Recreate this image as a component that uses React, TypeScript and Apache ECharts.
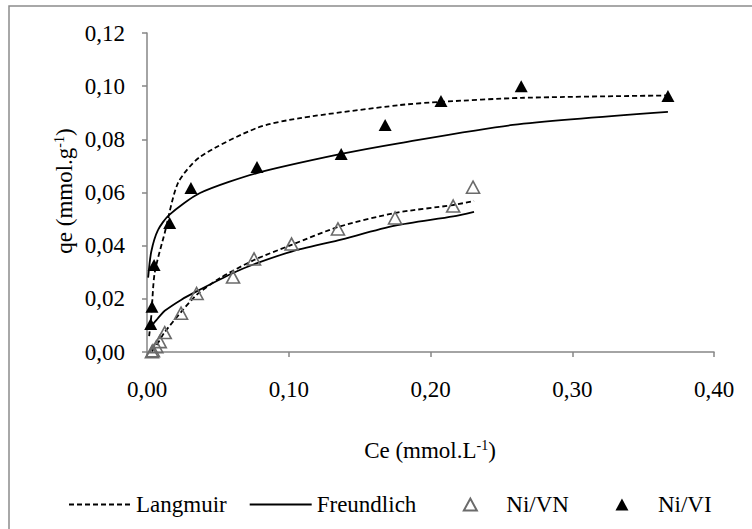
import React, { useEffect, useRef } from "react";
import * as echarts from "echarts";

// Experimental points
const niVNCe = [0.0035, 0.0042, 0.0066, 0.009, 0.0125, 0.024, 0.035, 0.0607, 0.0755, 0.102, 0.1347, 0.175, 0.216, 0.230];
const niVNQe = [0.0001, 0.0005, 0.002, 0.0039, 0.0073, 0.0146, 0.022, 0.0282, 0.035, 0.0406, 0.0463, 0.0504, 0.0549, 0.062];
const niVICe = [0.0026, 0.0035, 0.005, 0.016, 0.031, 0.0776, 0.137, 0.168, 0.2074, 0.264, 0.3675];
const niVIQe = [0.0105, 0.017, 0.0327, 0.0485, 0.0617, 0.0696, 0.0745, 0.0854, 0.0944, 0.100, 0.0963];

// Model curves
const langVICe = [0.0015, 0.003, 0.0054, 0.0125, 0.0219, 0.0374, 0.0776, 0.108, 0.1785, 0.2074, 0.264, 0.3675];
const langVIQe = [0.006, 0.0133, 0.0297, 0.0448, 0.0636, 0.0734, 0.0843, 0.088, 0.0929, 0.0941, 0.0956, 0.0965];
const freuVICe = [0.0008, 0.003, 0.0078, 0.0155, 0.0374, 0.0776, 0.137, 0.1785, 0.258, 0.3675];
const freuVIQe = [0.028, 0.0377, 0.0459, 0.0515, 0.0598, 0.0673, 0.0745, 0.0786, 0.0854, 0.0903];
const langVNCe = [0.0035, 0.0066, 0.009, 0.0125, 0.024, 0.035, 0.0515, 0.0755, 0.102, 0.1347, 0.175, 0.216, 0.2307];
const langVNQe = [0.0003, 0.0025, 0.0045, 0.0075, 0.015, 0.0215, 0.0278, 0.0346, 0.0403, 0.047, 0.0523, 0.0553, 0.0568];
const freuVNCe = [0.0042, 0.0066, 0.009, 0.0125, 0.024, 0.035, 0.0607, 0.0755, 0.102, 0.1347, 0.175, 0.216, 0.2307];
const freuVNQe = [0.0105, 0.012, 0.0135, 0.0155, 0.0196, 0.0228, 0.0297, 0.033, 0.0378, 0.042, 0.0475, 0.051, 0.0527];

const legendNames = ["Langmuir", "Freundlich", "Ni/VN", "Ni/VI"];
const xTitle = "Ce (mmol.L";
const yTitle = "qe (mmol.g";
const supText = "-1";

const FONT = "Liberation Serif";
const AXIS = "#868686";
// triangle centred inside a 62-wide invisible box
const TRI_ICON = "path://M0,12 M24.5,12 L31,0 L37.5,12 Z M62,12";

const pairs = (xs: number[], ys: number[]) => xs.map((x, i) => [x, ys[i]]);
const fmt = (v: number) => v.toFixed(2).replace(".", ",");

export default function App() {
  const ref = useRef<HTMLDivElement>(null);
  useEffect(() => {
    if (!ref.current) return;
    const chart = echarts.init(ref.current, undefined, { renderer: "svg" });
    const lineBase = { type: "line" as const, showSymbol: false, symbol: "none", smooth: 0.25, z: 2 };
    const hiddenSym = { color: "#000", opacity: 0 };
    chart.setOption({
      animation: false,
      backgroundColor: "#ffffff",
      grid: { left: 147, right: 38, top: 33, bottom: 177 },
      legend: {
        data: [
          { name: legendNames[0], itemStyle: { opacity: 0 } },
          { name: legendNames[1], itemStyle: { opacity: 0 } },
          { name: legendNames[2], icon: TRI_ICON },
          { name: legendNames[3], icon: TRI_ICON },
        ],
        left: 63,
        top: 488,
        itemWidth: 62,
        itemHeight: 12,
        itemGap: 22,
        symbolKeepAspect: true,
        textStyle: { fontFamily: FONT, fontSize: 23, color: "#000" },
      },
      xAxis: {
        type: "value",
        min: 0,
        max: 0.4,
        interval: 0.1,
        axisLine: { lineStyle: { color: AXIS, width: 1.5 } },
        axisTick: { show: true, length: 5, lineStyle: { color: AXIS, width: 1.5 } },
        splitLine: { show: false },
        axisLabel: { formatter: fmt, fontFamily: FONT, fontSize: 23, color: "#000", margin: 26 },
      },
      yAxis: {
        type: "value",
        min: 0,
        max: 0.12,
        interval: 0.02,
        axisLine: { show: true, lineStyle: { color: AXIS, width: 1.5 } },
        axisTick: { show: true, length: 5, lineStyle: { color: AXIS, width: 1.5 } },
        splitLine: { show: false },
        axisLabel: { formatter: fmt, fontFamily: FONT, fontSize: 23, color: "#000", margin: 22 },
      },
      graphic: [
        {
          type: "rect",
          shape: { x: 9, y: 6, width: 780, height: 560 },
          style: { fill: "none", stroke: "#8c8c8c", lineWidth: 1.5 },
          silent: true,
          z: -10,
        },
        {
          type: "text",
          x: 430,
          y: 450,
          style: {
            text: `{a|${xTitle}}{s|${supText}}{a|)}`,
            align: "center",
            verticalAlign: "middle",
            rich: {
              a: { fontFamily: FONT, fontSize: 23, fill: "#000" },
              s: { fontFamily: FONT, fontSize: 14, fill: "#000", verticalAlign: "top" },
            },
          },
        },
        {
          type: "text",
          x: 64,
          y: 191,
          rotation: Math.PI / 2,
          style: {
            text: `{a|${yTitle}}{s|${supText}}{a|)}`,
            align: "center",
            verticalAlign: "middle",
            rich: {
              a: { fontFamily: FONT, fontSize: 23, fill: "#000" },
              s: { fontFamily: FONT, fontSize: 14, fill: "#000", verticalAlign: "top" },
            },
          },
        },
      ],
      series: [
        { ...lineBase, name: "Langmuir", data: pairs(langVICe, langVIQe), lineStyle: { color: "#000", width: 1.8, type: [5, 3] }, itemStyle: hiddenSym },
        { ...lineBase, name: "Langmuir", data: pairs(langVNCe, langVNQe), lineStyle: { color: "#000", width: 1.8, type: [5, 3] }, itemStyle: hiddenSym },
        { ...lineBase, name: "Freundlich", data: pairs(freuVICe, freuVIQe), lineStyle: { color: "#000", width: 1.8 }, itemStyle: hiddenSym },
        { ...lineBase, name: "Freundlich", data: pairs(freuVNCe, freuVNQe), lineStyle: { color: "#000", width: 1.8 }, itemStyle: hiddenSym },
        {
          type: "scatter",
          name: "Ni/VN",
          symbol: "triangle",
          symbolSize: [13, 12],
          data: pairs(niVNCe, niVNQe),
          itemStyle: { color: "rgba(255,255,255,0)", borderColor: "#6b6b6b", borderWidth: 1.6, opacity: 1 },
          z: 3,
        },
        {
          type: "scatter",
          name: "Ni/VI",
          symbol: "triangle",
          symbolSize: [13, 12],
          data: pairs(niVICe, niVIQe),
          itemStyle: { color: "#000", opacity: 1 },
          z: 4,
        },
      ],
    });
    return () => chart.dispose();
  }, []);
  return (
    <div
      ref={ref}
      style={{ position: "fixed", left: 0, top: 0, width: 752, height: 529, background: "#fff" }}
    />
  );
}
